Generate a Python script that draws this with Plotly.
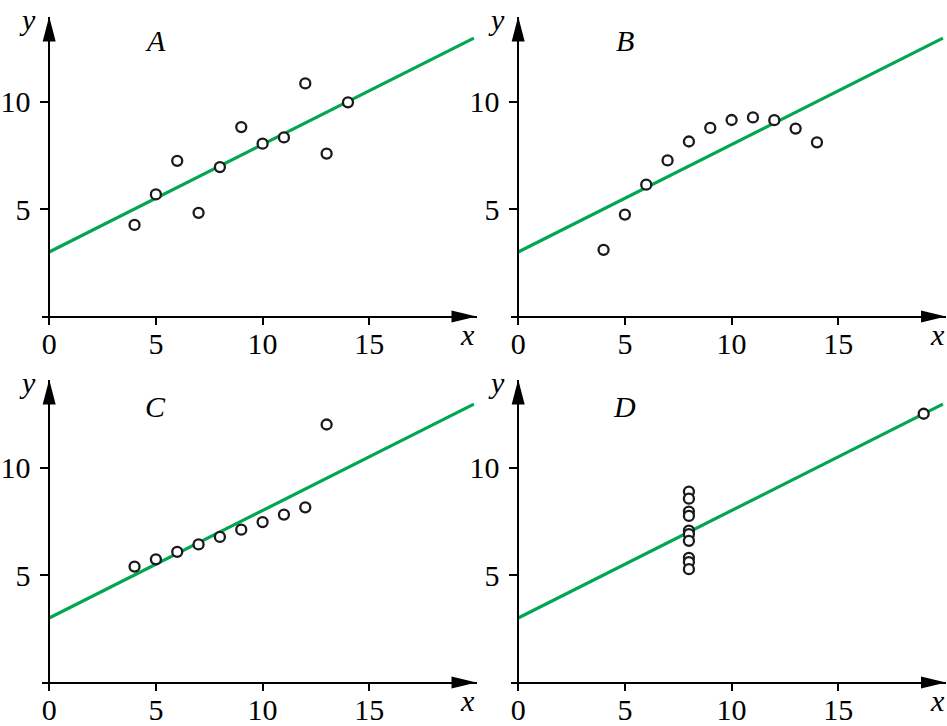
import plotly.graph_objects as go

W, H = 947, 726

# ---- data ----
xA = [4, 5, 6, 7, 8, 9, 10, 11, 12, 13, 14]
yA = [4.26, 5.68, 7.24, 4.82, 6.95, 8.81, 8.04, 8.33, 10.84, 7.58, 9.96]
xB = [4, 5, 6, 7, 8, 9, 10, 11, 12, 13, 14]
yB = [3.10, 4.74, 6.13, 7.26, 8.14, 8.77, 9.14, 9.26, 9.13, 8.74, 8.10]
xC = [4, 5, 6, 7, 8, 9, 10, 11, 12, 13]
yC = [5.39, 5.73, 6.08, 6.42, 6.77, 7.11, 7.46, 7.81, 8.15, 12.0]
xD = [8, 8, 8, 8, 8, 8, 8, 8, 8, 8, 19]
yD = [8.88, 8.55, 7.95, 7.75, 7.06, 6.90, 6.59, 5.80, 5.60, 5.27, 12.5]
fit_x = [0, 19.9]
fit_y = [3.0, 12.95]
panel_labels = ["A", "B", "C", "D"]
x_ticks = [0, 5, 10, 15]
y_ticks = [5, 10]

panels = [(xA, yA), (xB, yB), (xC, yC), (xD, yD)]

GREEN = "#00A651"
FONT = "Liberation Serif, Times New Roman, serif"

# pixel geometry of the four panels: (x-domain px, y-domain px, origin px)
geo = [
    dict(xd=(35, 473), yd=(16.5, 323.5), ox=42.5, oy=316.5),
    dict(xd=(507.5, 946), yd=(16.5, 323.5), ox=515, oy=316.5),
    dict(xd=(35, 473), yd=(379.5, 689.5), ox=42.5, oy=682.5),
    dict(xd=(507.5, 946), yd=(379.5, 689.5), ox=515, oy=682.5),
]
PPU = 21.5  # pixels per unit


def px(xp):
    return xp / W


def py(yp):
    return 1 - yp / H


fig = go.Figure()
layout = {}
shapes = []
annotations = []

for i, ((xs, ys), g) in enumerate(zip(panels, geo)):
    n = "" if i == 0 else str(i + 1)
    xr = [(g["xd"][0] - g["ox"]) / PPU, (g["xd"][1] - g["ox"]) / PPU]
    yr = [(g["oy"] - g["yd"][1]) / PPU, (g["oy"] - g["yd"][0]) / PPU]
    xa = "x" + n
    ya = "y" + n

    fig.add_trace(go.Scatter(x=fit_x, y=fit_y, mode="lines",
                             line=dict(color=GREEN, width=3.2),
                             xaxis=xa, yaxis=ya, showlegend=False,
                             hoverinfo="skip"))
    fig.add_trace(go.Scatter(x=xs, y=ys, mode="markers",
                             marker=dict(symbol="circle", size=10, color="white",
                                         line=dict(color="#1a1a1a", width=2.3)),
                             xaxis=xa, yaxis=ya, showlegend=False))

    axcommon = dict(showgrid=False, zeroline=False, showline=True,
                    linecolor="black", linewidth=1.5, ticks="outside",
                    ticklen=8, tickwidth=1.5, tickcolor="black",
                    tickfont=dict(family=FONT, size=30, color="black"),
                    fixedrange=True)
    layout["xaxis" + n] = dict(axcommon, domain=[px(g["xd"][0]), px(g["xd"][1])],
                               range=xr, anchor="free", position=py(g["oy"]),
                               tickvals=x_ticks, ticktext=[str(t) for t in x_ticks],
                               ticklabelstandoff=-7)
    layout["yaxis" + n] = dict(axcommon, domain=[py(g["yd"][1]), py(g["yd"][0])],
                               range=yr, anchor="free", position=px(g["ox"]),
                               tickvals=y_ticks, ticktext=[str(t) for t in y_ticks],
                               ticklabelstandoff=4)

    # arrow heads
    shapes.append(dict(type="path", xref=xa, yref=ya, xsizemode="pixel",
                       ysizemode="pixel", xanchor=0, yanchor=yr[1],
                       path="M 0 0 L -6.5 -25 L 6.5 -25 Z",
                       fillcolor="black", line=dict(width=0)))
    shapes.append(dict(type="path", xref=xa, yref=ya, xsizemode="pixel",
                       ysizemode="pixel", xanchor=xr[1], yanchor=0,
                       path="M 0 0 L -25 6 L -25 -6 Z",
                       fillcolor="black", line=dict(width=0)))

    # axis letters
    annotations.append(dict(xref="paper", yref="paper",
                            x=px(g["ox"] - 22), y=py(g["yd"][0] + 3),
                            xanchor="center", yanchor="middle",
                            text="<i>y</i>", showarrow=False,
                            font=dict(family=FONT, size=30, color="black")))
    annotations.append(dict(xref="paper", yref="paper",
                            x=px(g["xd"][1] - 9), y=py(g["oy"] + 18),
                            xanchor="center", yanchor="middle",
                            text="<i>x</i>", showarrow=False,
                            font=dict(family=FONT, size=30, color="black")))
    # panel letter
    annotations.append(dict(xref=xa, yref=ya, x=5.0, y=12.85,
                            xanchor="center", yanchor="middle",
                            text="<i>" + panel_labels[i] + "</i>", showarrow=False,
                            font=dict(family=FONT, size=30, color="black")))

fig.update_layout(**layout)
fig.update_layout(width=W, height=H, margin=dict(l=0, r=0, t=0, b=0),
                  plot_bgcolor="white", paper_bgcolor="white",
                  shapes=shapes, annotations=annotations)

fig.write_html("out.html", config={"displayModeBar": False},
               post_script="document.body.style.margin='0px';"
                           "document.body.style.overflow='hidden';")
